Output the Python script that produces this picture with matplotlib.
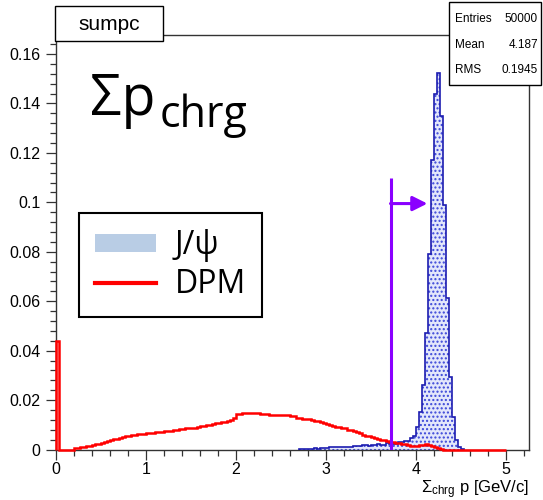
import numpy as np
import matplotlib
matplotlib.use("Agg")
import matplotlib.pyplot as plt
from matplotlib.patches import Patch, Rectangle
from matplotlib.lines import Line2D

plt.rcParams['font.family'] = ['Liberation Sans', 'DejaVu Sans']
plt.rcParams['mathtext.fontset'] = 'custom'
plt.rcParams['mathtext.rm'] = 'Liberation Sans'
plt.rcParams['mathtext.it'] = 'Liberation Sans'

# histogram binning (1/30 GeV/c per bin)
bin_width = 1 / 30

# DPM background, normalised, bins start at 0
dpm = [0.044, 0, 0, 0, 0, 0, 0.0005, 0.0007, 0.0009, 0.0012,
       0.0013, 0.0015, 0.0019, 0.0021, 0.0024, 0.0028, 0.0031, 0.0034, 0.0038, 0.0041,
       0.0044, 0.0048, 0.0051, 0.0053, 0.0055, 0.0057, 0.0059, 0.0061, 0.0062, 0.0064,
       0.0066, 0.0066, 0.0068, 0.0070, 0.0071, 0.0072, 0.0074, 0.0073, 0.0076, 0.0079,
       0.0080, 0.0081, 0.0084, 0.0085, 0.0086, 0.0088, 0.0089, 0.0090, 0.0094, 0.0097,
       0.0098, 0.0101, 0.0104, 0.0106, 0.0108, 0.0110, 0.0112, 0.0114, 0.0118, 0.0128,
       0.0145, 0.0145, 0.0146, 0.0148, 0.0149, 0.0148, 0.0146, 0.0146, 0.0145, 0.0144,
       0.0142, 0.0141, 0.0139, 0.0140, 0.0138, 0.0140, 0.0138, 0.0140, 0.0136, 0.0135,
       0.0129, 0.0126, 0.0124, 0.0123, 0.0122, 0.0120, 0.0117, 0.0114, 0.0111, 0.0108,
       0.0105, 0.0101, 0.0097, 0.0093, 0.0090, 0.0087, 0.0085, 0.0080, 0.0077, 0.0074,
       0.0069, 0.0066, 0.0060, 0.0056, 0.0053, 0.0049, 0.0046, 0.0043, 0.0039, 0.0037,
       0.0034, 0.0031, 0.0029, 0.0027, 0.0025, 0.0023, 0.0021, 0.0018, 0.0016, 0.0016,
       0.0016, 0.0018, 0.0020, 0.0021, 0.0020, 0.0015, 0.0012, 0.0007, 0.0004, 0,
       0, 0, 0, 0, 0, 0, 0, 0, 0, 0,
       0, 0, 0, 0, 0, 0, 0, 0, 0, 0]

# J/psi signal, normalised, first bin starts at bin index 81 (2.7 GeV/c)
jpsi_first_bin = 81
jpsi = [0.0003, 0.0002, 0.0004, 0.0003, 0.0004, 0.0005, 0.0004, 0.0006, 0.0005,
        0.0008, 0.0009, 0.0010, 0.0009, 0.0011, 0.0010, 0.0012, 0.0011, 0.0012,
        0.0013, 0.0015, 0.0016, 0.0018, 0.0020, 0.0016,
        0.0017, 0.0018, 0.0022, 0.0019, 0.0020,
        0.0026, 0.0022, 0.0024, 0.0023,
        0.0030, 0.0031, 0.0033, 0.0035,
        0.0045, 0.0055, 0.0090, 0.0150, 0.0260, 0.0470, 0.0790, 0.1170, 0.1440,
        0.1524, 0.1350, 0.0988, 0.0613, 0.0294, 0.0133, 0.0040, 0.0012, 0.0004]

cut_value = 3.72
stats_labels = ['Entries', 'Mean', 'RMS']
stats_values = ['50000', '4.187', '0.1945']

W, H = 543, 500
fig = plt.figure(figsize=(W / 100, H / 100), dpi=100)
ax = fig.add_axes([56 / W, 1 - 449.5 / H, 473 / W, 414.5 / H])

dpm_edges = np.arange(len(dpm) + 1) * bin_width
jpsi_edges = (jpsi_first_bin + np.arange(len(jpsi) + 1)) * bin_width

# J/psi: light fill with dot pattern + blue outline
ax.stairs(jpsi, jpsi_edges, fill=True, facecolor='#e3e7fb', edgecolor='#3a46d8',
          hatch='....', linewidth=0, zorder=2)
ax.stairs(jpsi, jpsi_edges, color='#1c1cb0', linewidth=1.2, zorder=3, clip_on=False)
# DPM
ax.stairs(dpm, dpm_edges, color='#ff0000', linewidth=1.8, zorder=4, clip_on=False)

# cut line with arrow
purple = '#8a00ff'
ax.plot([cut_value, cut_value], [0, 0.110], color=purple, lw=2.2, zorder=5,
        solid_capstyle='butt')
ax.annotate('', xy=(cut_value + 0.41, 0.0995), xytext=(cut_value, 0.0995),
            arrowprops=dict(arrowstyle='-|>', color=purple, lw=2.2,
                            mutation_scale=22, shrinkA=0, shrinkB=0), zorder=5)

ax.set_xlim(0, 5.26)
ax.set_ylim(0, 0.1677)
ax.set_xticks(np.arange(0, 5.01, 1))
ax.set_xticklabels(['0', '1', '2', '3', '4', '5'])
ax.set_xticks(np.arange(0, 5.27, 0.2), minor=True)
ax.set_yticks(np.arange(0, 0.161, 0.02))
ax.set_yticklabels(['0', '0.02', '0.04', '0.06', '0.08', '0.1', '0.12', '0.14', '0.16'])
ax.set_yticks(np.arange(0, 0.1677, 0.004), minor=True)
ax.tick_params(which='major', length=7, width=0.9, labelsize=11.5, pad=4, color='#333333')
ax.tick_params(axis='x', which='major', pad=2)
ax.tick_params(which='minor', length=4, width=0.9, color='#333333')
for s in ax.spines.values():
    s.set_linewidth(1.0)
    s.set_color('#333333')

fig.text(529 / W, 1 - 489.5 / H, r'$\Sigma_{\rm chrg}$ p [GeV/c]', ha='right', va='center',
         fontsize=12)

# big annotation
big = ['Open Sans', 'DejaVu Sans']
t1 = fig.text(90 / W, 1 - 115 / H, 'Σp', fontsize=40, family=big, va='baseline')
fig.canvas.draw()
bb = t1.get_window_extent()
fig.text(bb.x1 / W + 4 / W, 1 - 127 / H, 'chrg', fontsize=31, family=big, va='baseline')

# legend
handles = [Patch(facecolor='#b9cde5', edgecolor='none'),
           Line2D([], [], color='#ff0000', lw=3)]
leg = fig.legend(handles, ['J/ψ', 'DPM'], loc='upper left',
                 bbox_to_anchor=(79 / W, 1 - 213 / H), borderaxespad=0,
                 prop={'family': big, 'size': 23}, frameon=True, fancybox=False,
                 framealpha=1, edgecolor='black', handlelength=1.9, handleheight=0.5,
                 handletextpad=0.6, borderpad=0.5, labelspacing=0.2)
leg.get_frame().set_linewidth(1.5)

# title box
fig.patches.append(Rectangle((55 / W, 1 - 41 / H), 108 / W, 35 / H, transform=fig.transFigure,
                             facecolor='white', edgecolor='black', lw=1.0, zorder=10))
fig.text(109 / W, 1 - 24 / H, 'sumpc', ha='center', va='center', fontsize=15, zorder=11)

# stats box
fig.patches.append(Rectangle((449 / W, 1 - 85 / H), 92 / W, 83 / H, transform=fig.transFigure,
                             facecolor='white', edgecolor='black', lw=1.0, zorder=10))
for i, (lab, val) in enumerate(zip(stats_labels, stats_values)):
    y = 1 - (19 + 25.5 * i) / H
    fig.text(455 / W, y, lab, ha='left', va='center', fontsize=8.5, zorder=11)
    fig.text(538 / W, y, val, ha='right', va='center', fontsize=8.5, zorder=11)

fig.savefig('out.png', dpi=100)
